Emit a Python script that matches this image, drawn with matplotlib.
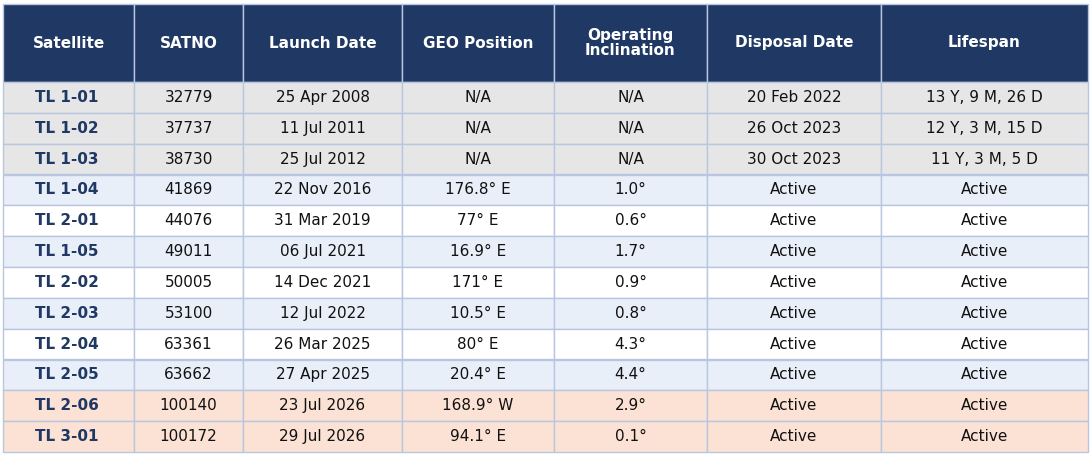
"""Table of satellite status, drawn as a matplotlib figure."""

import matplotlib.pyplot as plt
from matplotlib.patches import Rectangle

columns = ["Satellite", "SATNO", "Launch Date", "GEO Position",
           "Operating\nInclination", "Disposal Date", "Lifespan"]

satellites = ["TL 1-01", "TL 1-02", "TL 1-03", "TL 1-04", "TL 2-01", "TL 1-05",
              "TL 2-02", "TL 2-03", "TL 2-04", "TL 2-05", "TL 2-06", "TL 3-01"]
satno = ["32779", "37737", "38730", "41869", "44076", "49011",
         "50005", "53100", "63361", "63662", "100140", "100172"]
launch_dates = ["25 Apr 2008", "11 Jul 2011", "25 Jul 2012", "22 Nov 2016",
                "31 Mar 2019", "06 Jul 2021", "14 Dec 2021", "12 Jul 2022",
                "26 Mar 2025", "27 Apr 2025", "23 Jul 2026", "29 Jul 2026"]
geo_positions = ["N/A", "N/A", "N/A", "176.8° E", "77° E", "16.9° E",
                 "171° E", "10.5° E", "80° E", "20.4° E", "168.9° W", "94.1° E"]
inclinations = ["N/A", "N/A", "N/A", "1.0°", "0.6°", "1.7°",
                "0.9°", "0.8°", "4.3°", "4.4°", "2.9°", "0.1°"]
disposal_dates = ["20 Feb 2022", "26 Oct 2023", "30 Oct 2023"] + ["Active"] * 9
lifespans = ["13 Y, 9 M, 26 D", "12 Y, 3 M, 15 D", "11 Y, 3 M, 5 D"] + ["Active"] * 9
# status group: retired / current / planned
status = ["retired"] * 3 + ["current"] * 7 + ["planned"] * 2

HEADER_BG = "#1f3864"
NAME_COLOR = "#1f3864"
GRID = "#b9c6e0"
ROW_COLORS = {"retired": "#e6e6e6", "planned": "#fbe2d5"}
STRIPE = ["#e9eff9", "#ffffff"]

col_edges = [3, 134, 243, 402, 554, 707, 881, 1088]
top, header_bottom, bottom = 4, 82, 452

fig = plt.figure(figsize=(10.9, 4.55), dpi=100)
ax = fig.add_axes([0, 0, 1, 1])
ax.set_xlim(0, 1090)
ax.set_ylim(455, 0)
ax.axis("off")

rows = list(zip(satellites, satno, launch_dates, geo_positions,
                inclinations, disposal_dates, lifespans))
row_h = (bottom - header_bottom) / len(rows)

# header
for j, name in enumerate(columns):
    x0, x1 = col_edges[j], col_edges[j + 1]
    ax.add_patch(Rectangle((x0, top), x1 - x0, header_bottom - top,
                           facecolor=HEADER_BG, edgecolor=GRID, linewidth=1))
    ax.text((x0 + x1) / 2, (top + header_bottom) / 2, name, color="white",
            fontsize=11, fontweight="bold", ha="center", va="center",
            linespacing=1.0)

# body
stripe_i = 0
for i, row in enumerate(rows):
    y0 = header_bottom + i * row_h
    if status[i] == "current":
        bg = STRIPE[stripe_i % 2]
        stripe_i += 1
    else:
        bg = ROW_COLORS[status[i]]
    for j, val in enumerate(row):
        x0, x1 = col_edges[j], col_edges[j + 1]
        ax.add_patch(Rectangle((x0, y0), x1 - x0, row_h,
                               facecolor=bg, edgecolor=GRID, linewidth=1))
        if j == 0:
            ax.text((x0 + x1) / 2 - 2, y0 + row_h / 2, val, color=NAME_COLOR,
                    fontsize=11, fontweight="bold", ha="center", va="center")
        else:
            ax.text((x0 + x1) / 2, y0 + row_h / 2, val, color="#111111",
                    fontsize=11, ha="center", va="center")

fig.savefig("out.png", dpi=100)
